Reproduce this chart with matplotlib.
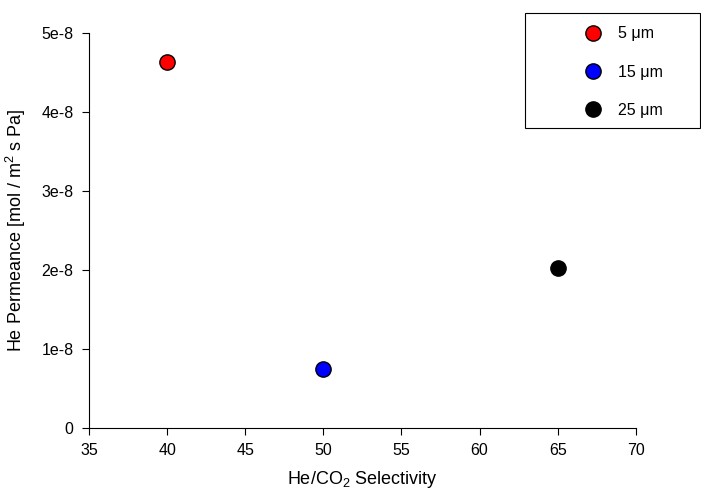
import matplotlib
matplotlib.use("Agg")
import matplotlib.pyplot as plt
from matplotlib.patches import Rectangle

plt.rcParams['font.family'] = ['Liberation Sans', 'DejaVu Sans']
plt.rcParams['mathtext.fontset'] = 'custom'
plt.rcParams['mathtext.rm'] = 'Liberation Sans'

# data
labels = ['5 \u03bcm', '15 \u03bcm', '25 \u03bcm']
selectivity = [40, 50, 65]
permeance = [4.63e-8, 0.74e-8, 2.02e-8]
colors = ['#ff0000', '#0000ff', '#000000']

x_ticks = [35, 40, 45, 50, 55, 60, 65, 70]
y_ticks = [0, 1e-8, 2e-8, 3e-8, 4e-8, 5e-8]
y_ticklabels = ['0', '1e-8', '2e-8', '3e-8', '4e-8', '5e-8']

fig = plt.figure(figsize=(7.01, 4.93), dpi=100)
ax = fig.add_axes([0.127, 0.132, 0.78, 0.801])

handles = []
for x, y, c, lab in zip(selectivity, permeance, colors, labels):
    h, = ax.plot([x], [y], 'o', color=c, markersize=11, markeredgecolor='black',
                 markeredgewidth=1, label=lab, linestyle='none', clip_on=False)
    handles.append(h)

ax.set_xlim(35, 70)
ax.set_ylim(0, 5e-8)
ax.set_xticks(x_ticks)
ax.set_yticks(y_ticks)
ax.set_yticklabels(y_ticklabels)
ax.tick_params(direction='out', length=5, width=0.8, labelsize=11.5, pad=6)

ax.spines['top'].set_visible(False)
ax.spines['right'].set_visible(False)

ax.set_xlabel('He/CO$_2$ Selectivity', fontsize=13, labelpad=8)
ax.set_ylabel('He Permeance [mol / m$^2$ s Pa]', fontsize=13, labelpad=10)

# legend box (frame drawn separately)
fig.patches.append(Rectangle((525 / 701, 1 - 128 / 493), 175 / 701, 115 / 493,
                             transform=fig.transFigure, fill=False,
                             edgecolor='black', linewidth=0.8))
fig.legend(handles=handles, loc='center', bbox_to_anchor=(624 / 701, 1 - 72 / 493),
           frameon=False, fontsize=11.5, labelspacing=1.45, handlelength=1.0,
           handletextpad=1.1, markerscale=1.0)

fig.savefig('out.png', dpi=100)
